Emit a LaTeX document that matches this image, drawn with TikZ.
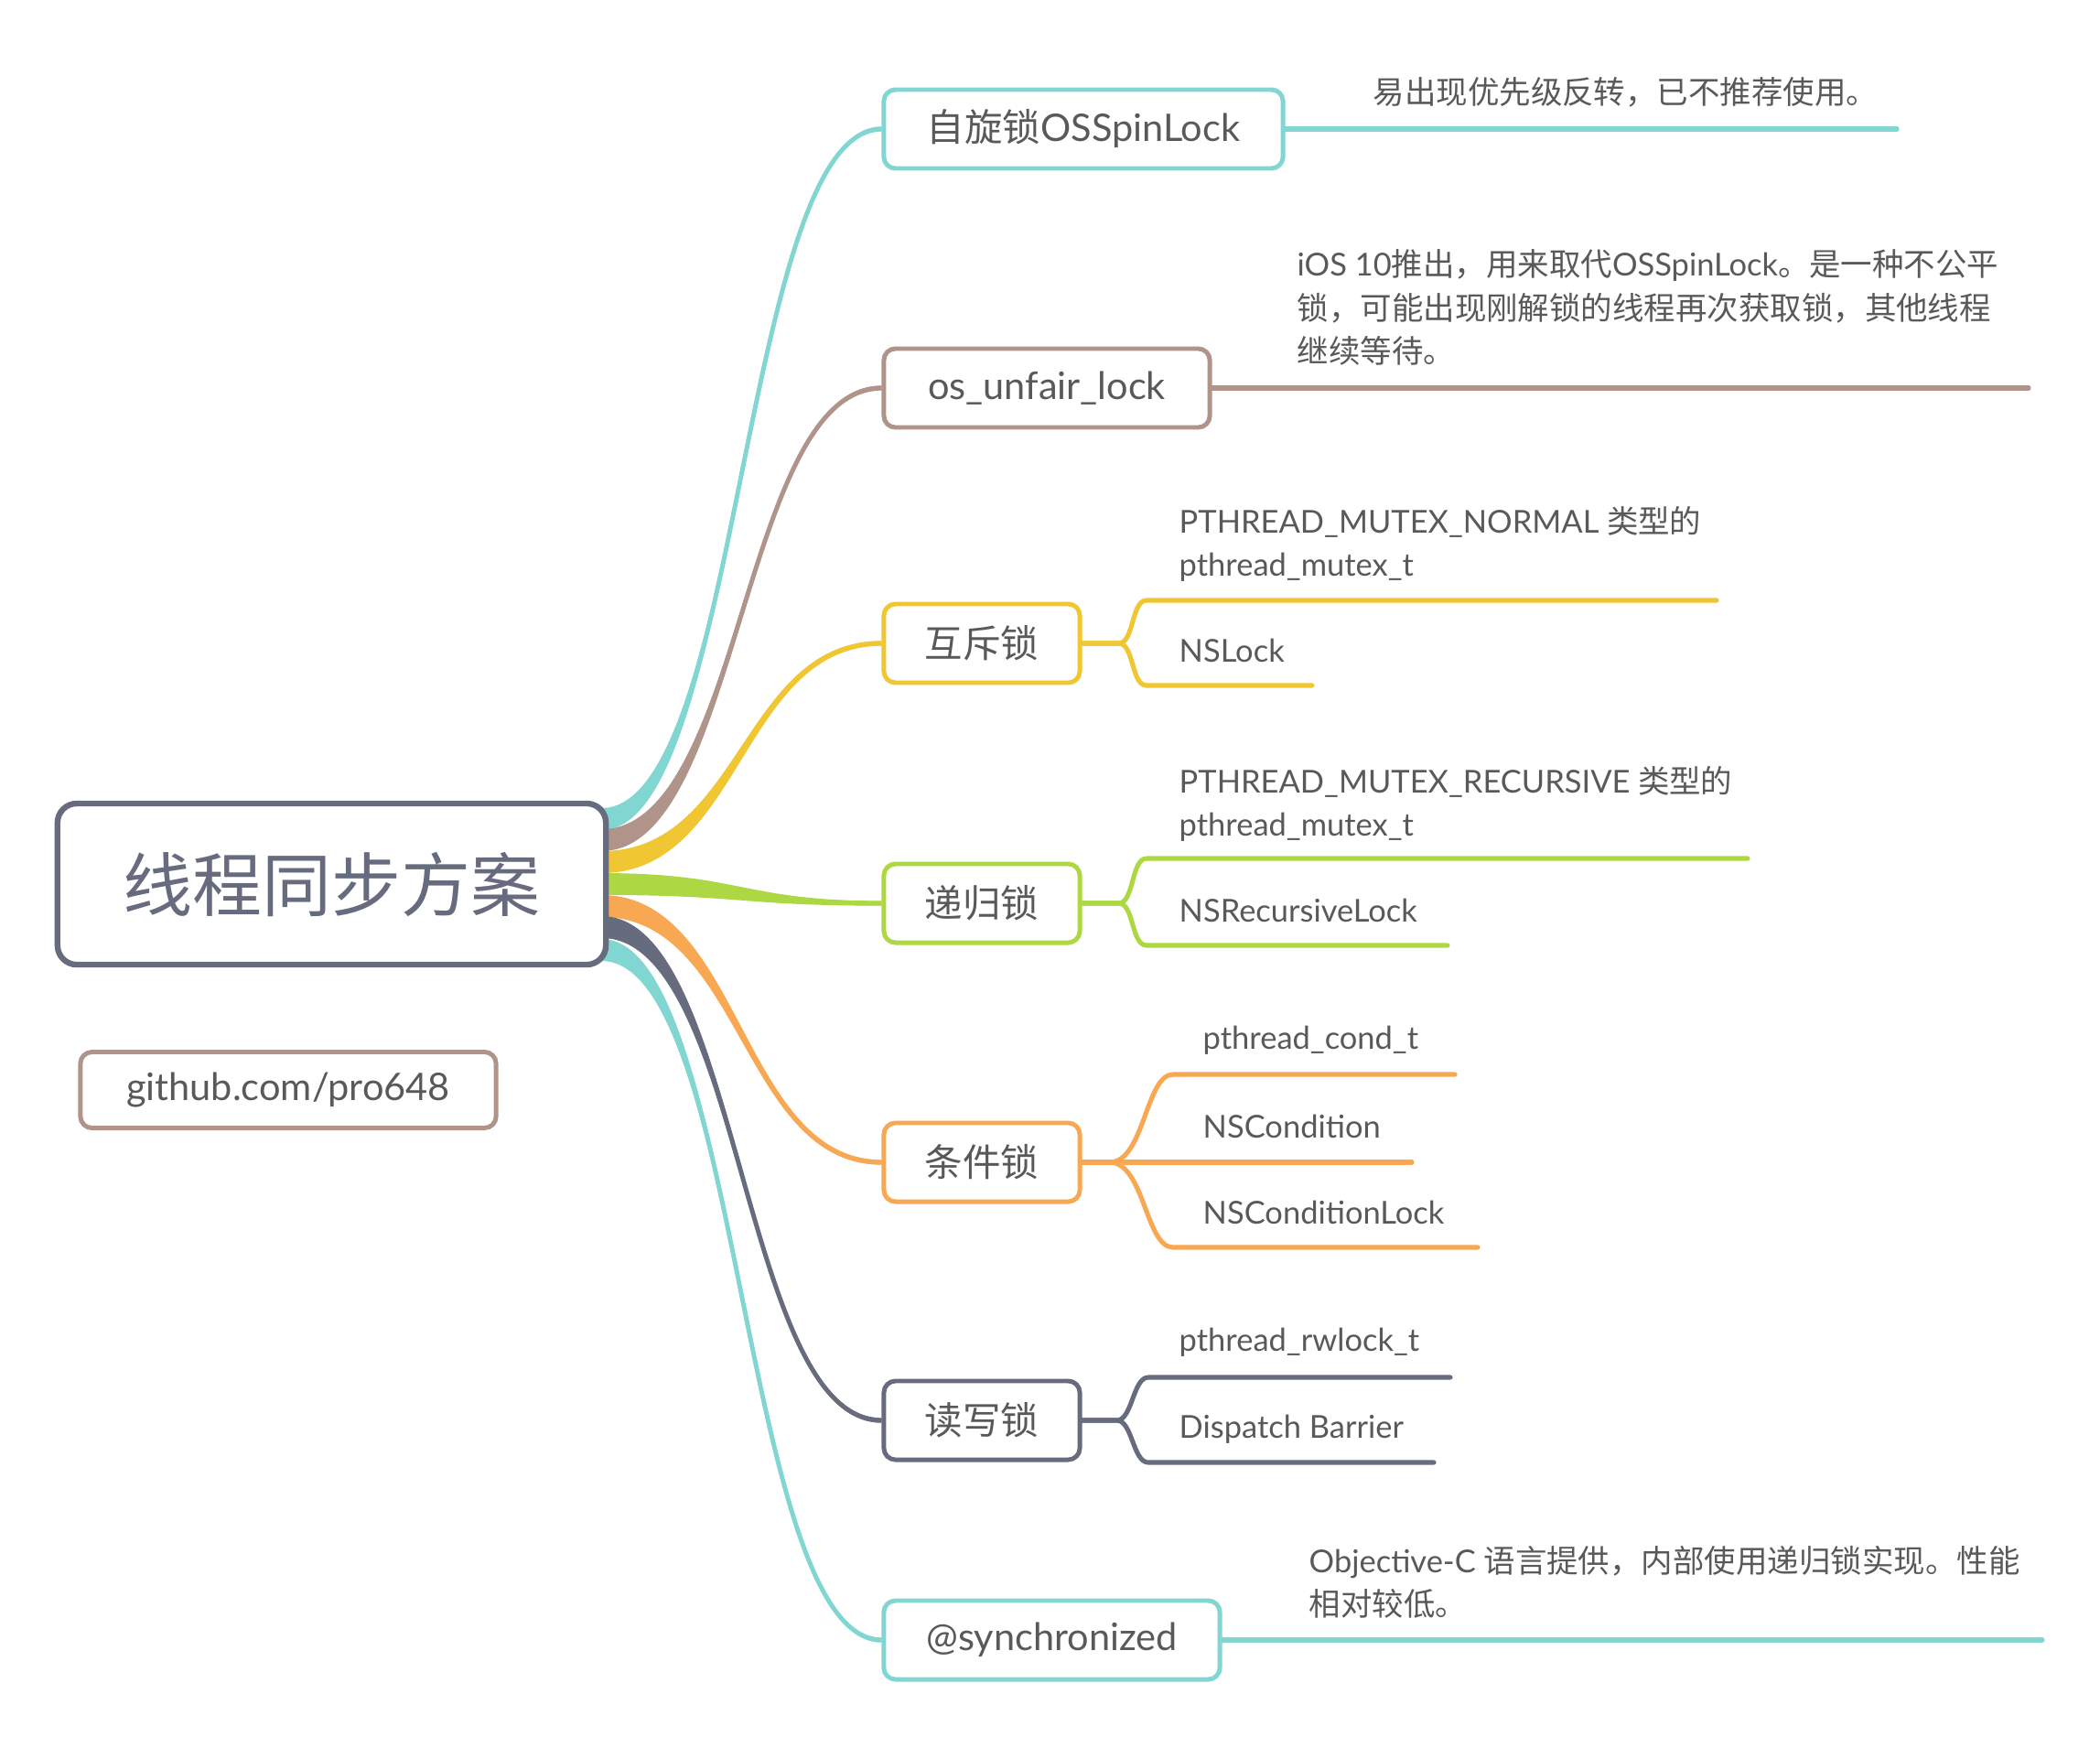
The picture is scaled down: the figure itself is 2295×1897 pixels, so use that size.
\documentclass[tikz,border=0pt]{standalone}
\usepackage{fontspec}
\setmainfont{Lato}
\newfontfamily\cjk{Noto Sans CJK SC}
\newcommand\zh[1]{{\cjk #1}}
\usetikzlibrary{calc,backgrounds}
\definecolor{cteal}{HTML}{82D6D2}
\definecolor{cbrown}{HTML}{B0948A}
\definecolor{cyellow}{HTML}{F0C632}
\definecolor{cgreen}{HTML}{AED843}
\definecolor{corange}{HTML}{F8A852}
\definecolor{cslate}{HTML}{666B7E}
\definecolor{ctext}{HTML}{595959}
\newcommand\ribbon[3]{%
  \fill[#1] let \p1=(#2), \p2=(#3), \p3=($(#2)!0.5!(#3)$) in
   (\x1,\y1+3.4pt) .. controls (\x3,\y1+3.4pt) and (\x3,\y2+0.75pt) .. (\x2,\y2+0.75pt)
   -- (\x2,\y2-0.75pt) .. controls (\x3,\y2-0.75pt) and (\x3,\y1-3.4pt) .. (\x1,\y1-3.4pt) -- cycle;
  \draw[#1, line width=1.4pt] let \p1=(#2), \p2=(#3), \p3=($(#2)!0.5!(#3)$) in
   (\x1,\y1) .. controls (\x3,\y1) and (\x3,\y2) .. (\x2,\y2);}
\begin{document}
\begin{tikzpicture}[x=0.01cm,y=-0.01cm,
  branchbox/.style={draw=#1, rounded corners=3.6pt, line width=1.4pt, fill=white, text=ctext,
     font=\fontsize{11.8}{14}\selectfont, minimum height=0.86cm, inner sep=0pt},
  rootbox/.style={draw=cslate, rounded corners=6pt, line width=1.8pt, fill=white, text=cslate,
     font=\fontsize{21.6}{26}\selectfont, minimum width=5.99cm, minimum height=1.76cm, inner sep=0pt},
  leaftext/.style={text=ctext, font=\fontsize{9.8}{13.4}\selectfont, inner sep=0pt, anchor=west, align=left},
  leafline/.style={draw=#1, line width=1.45pt, line cap=round, line join=round}
]
\useasboundingbox (0,0) rectangle (2295,1897);

% root and note
\node[rootbox] (root) at (362.5,966) {\zh{线程同步方案}};
\node[branchbox=cbrown, minimum width=4.54cm, minimum height=0.83cm] (gh) at (315,1191) {github.com/pro648};

% branches
\node[branchbox=cteal, minimum width=4.36cm] (b1) at (1184,141) {\zh{自旋锁}OSSpinLock};
\node[branchbox=cbrown, minimum width=3.56cm] (b2) at (1144,424) {os\_unfair\_lock};
\node[branchbox=cyellow, minimum width=2.14cm] (b3) at (1073,703) {\zh{互斥锁}};
\node[branchbox=cgreen, minimum width=2.14cm] (b4) at (1073,987) {\zh{递归锁}};
\node[branchbox=corange, minimum width=2.14cm] (b5) at (1073,1270) {\zh{条件锁}};
\node[branchbox=cslate, minimum width=2.14cm] (b6) at (1073,1552) {\zh{读写锁}};
\node[branchbox=cteal, minimum width=3.67cm] (b7) at (1149.5,1792) {@synchronized};

% ribbons
\begin{scope}[on background layer]
\fill[white] (0,0) rectangle (2295,1897);
\coordinate (r1) at ($(root.east)+(-8,-71)$);
\coordinate (r2) at ($(root.east)+(-8,-48)$);
\coordinate (r3) at ($(root.east)+(-8,-24)$);
\coordinate (r4) at ($(root.east)+(-8,0)$);
\coordinate (r5) at ($(root.east)+(-8,24)$);
\coordinate (r6) at ($(root.east)+(-8,47)$);
\coordinate (r7) at ($(root.east)+(-8,72)$);
\ribbon{cteal}{r1}{b1.west}
\ribbon{cbrown}{r2}{b2.west}
\ribbon{cyellow}{r3}{b3.west}
\ribbon{cgreen}{r4}{b4.west}
\ribbon{corange}{r5}{b5.west}
\ribbon{cslate}{r6}{b6.west}
\ribbon{cteal}{r7}{b7.west}
\end{scope}

% leaves of branch 1
\coordinate (e1) at (2073,141);
\draw[leafline=cteal] (b1.east) -- (e1);
\node[leaftext] (t1) at (1500,101) {\zh{易出现优先级反转，已不推荐使用。}};

% branch 2
\coordinate (e2) at (2217,424);
\draw[leafline=cbrown] (b2.east) -- (e2);
\node[leaftext] (t2) at (1417,336) {iOS 10\zh{推出，用来取代}OSSpinLock\zh{。是一种不公平}\\\zh{锁，可能出现刚解锁的线程再次获取锁，其他线程}\\\zh{继续等待。}};

% branch 3
\coordinate (c3a) at (1253,656); \coordinate (e3a) at (1876,656);
\coordinate (c3b) at (1253,749); \coordinate (e3b) at (1434,749);
\draw[leafline=cyellow] (b3.east) -- ++(40,0) .. controls +(17,0) and +(-17,0) .. (c3a) -- (e3a);
\draw[leafline=cyellow] (b3.east) -- ++(40,0) .. controls +(17,0) and +(-17,0) .. (c3b) -- (e3b);
\node[leaftext] (t3a) at (1288,594.5) {PTHREAD\_MUTEX\_NORMAL \zh{类型的}\\pthread\_mutex\_t};
\node[leaftext] (t3b) at (1288,711) {NSLock};

% branch 4
\coordinate (c4a) at (1253,938); \coordinate (e4a) at (1910,938);
\coordinate (c4b) at (1253,1033); \coordinate (e4b) at (1582,1033);
\draw[leafline=cgreen] (b4.east) -- ++(40,0) .. controls +(17,0) and +(-17,0) .. (c4a) -- (e4a);
\draw[leafline=cgreen] (b4.east) -- ++(40,0) .. controls +(17,0) and +(-17,0) .. (c4b) -- (e4b);
\node[leaftext] (t4a) at (1288,878.5) {PTHREAD\_MUTEX\_RECURSIVE \zh{类型的}\\pthread\_mutex\_t};
\node[leaftext] (t4b) at (1288,995) {NSRecursiveLock};

% branch 5
\coordinate (c5a) at (1282,1174); \coordinate (e5a) at (1590,1174);
\coordinate (e5b) at (1543,1270);
\coordinate (c5c) at (1282,1363); \coordinate (e5c) at (1615,1363);
\draw[leafline=corange] (b5.east) -- ++(30,0) .. controls +(38,0) and +(-30,0) .. (c5a) -- (e5a);
\draw[leafline=corange] (b5.east) -- (e5b);
\draw[leafline=corange] (b5.east) -- ++(30,0) .. controls +(38,0) and +(-30,0) .. (c5c) -- (e5c);
\node[leaftext] (t5a) at (1314,1137) {pthread\_cond\_t};
\node[leaftext] (t5b) at (1314,1231) {NSCondition};
\node[leaftext] (t5c) at (1314,1325) {NSConditionLock};

% branch 6
\coordinate (c6a) at (1255,1505); \coordinate (e6a) at (1585,1505);
\coordinate (c6b) at (1255,1598); \coordinate (e6b) at (1567,1598);
\draw[leafline=cslate] (b6.east) -- ++(38,0) .. controls +(17,0) and +(-17,0) .. (c6a) -- (e6a);
\draw[leafline=cslate] (b6.east) -- ++(38,0) .. controls +(17,0) and +(-17,0) .. (c6b) -- (e6b);
\node[leaftext] (t6a) at (1288,1467) {pthread\_rwlock\_t};
\node[leaftext] (t6b) at (1288,1562) {Dispatch Barrier};

% branch 7
\coordinate (e7) at (2232,1792);
\draw[leafline=cteal] (b7.east) -- (e7);
\node[leaftext] (t7) at (1430,1728.5) {Objective-C \zh{语言提供，内部使用递归锁实现。性能}\\\zh{相对较低。}};
\end{tikzpicture}
\end{document}
